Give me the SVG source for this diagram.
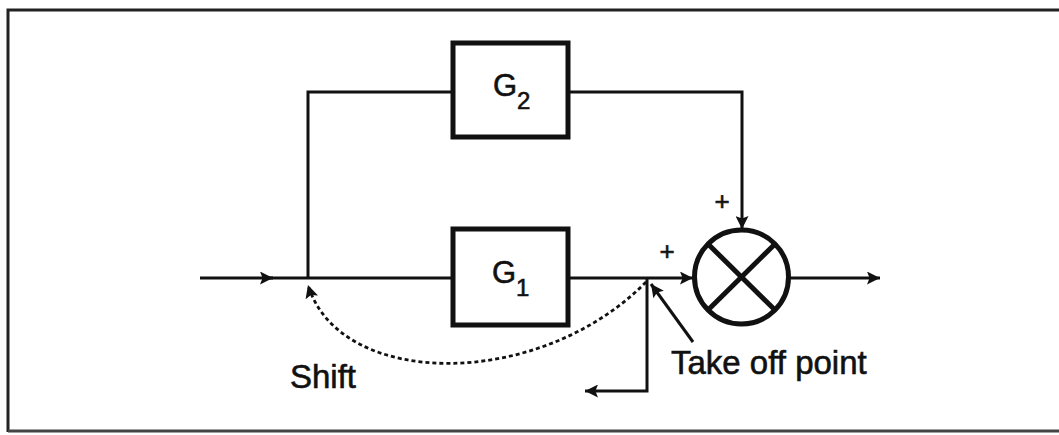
<svg xmlns="http://www.w3.org/2000/svg" width="1059" height="435" viewBox="0 0 1059 435">
<style>
.ln{fill:none;stroke:#111;stroke-width:3}
.box{fill:#fff;stroke:#111;stroke-width:5}
.t{font-family:"Liberation Sans",Arial,sans-serif;fill:#111;stroke:#111;stroke-width:0.6}
.dash{fill:none;stroke:#111;stroke-width:2.8;stroke-dasharray:4 3}
</style>
<defs>
<marker id="ah" viewBox="0 0 10 10" refX="10" refY="5" markerWidth="17" markerHeight="13" markerUnits="userSpaceOnUse" orient="auto">
<path d="M0,0 L10,5 L0,10 L2,5 Z" fill="#111"/>
</marker>
</defs>
<rect width="1059" height="435" fill="#fff"/>
<path d="M8,432 V10 H1062" fill="none" stroke="#222" stroke-width="3"/>
<line x1="8" y1="431" x2="1062" y2="431" stroke="#444" stroke-width="3"/>
<g id="connectors">
<line class="ln" x1="200" y1="278" x2="273" y2="278" marker-end="url(#ah)"/>
<line class="ln" x1="268" y1="278" x2="453" y2="278"/>
<polyline class="ln" points="308,278 308,92 452,92"/>
<polyline class="ln" points="568,92 742,92 742,229" marker-end="url(#ah)"/>
<line class="ln" x1="568" y1="278" x2="693" y2="278" marker-end="url(#ah)"/>
<line class="ln" x1="790" y1="278" x2="880" y2="278" marker-end="url(#ah)"/>
<polyline class="ln" points="647,278 647,391 585,391" marker-end="url(#ah)"/>
<line class="ln" x1="693" y1="342" x2="651" y2="284" marker-end="url(#ah)"/>
<path class="dash" d="M646,282 C540,390 340,390 308,285" marker-end="url(#ah)"/>
</g>
<g id="G2">
<rect class="box" x="453" y="43" width="115" height="94"/>
<text class="t" x="493" y="96" font-size="31">G</text>
<text class="t" x="517" y="109" font-size="24">2</text>
</g>
<g id="G1">
<rect class="box" x="453" y="229" width="115" height="96"/>
<text class="t" x="492" y="283" font-size="31">G</text>
<text class="t" x="516" y="296" font-size="24">1</text>
</g>
<g id="sum">
<circle cx="741.5" cy="277" r="47" fill="#fff" stroke="#111" stroke-width="5"/>
<line x1="708" y1="244" x2="775" y2="310" stroke="#111" stroke-width="5"/>
<line x1="775" y1="244" x2="708" y2="310" stroke="#111" stroke-width="5"/>
</g>
<g id="labels">
<text class="t" x="722" y="210" font-size="26" text-anchor="middle">+</text>
<text class="t" x="667" y="260" font-size="26" text-anchor="middle">+</text>
<text class="t" x="290" y="388" font-size="33">Shift</text>
<text class="t" x="671" y="374" font-size="33">Take off point</text>
</g>
</svg>
